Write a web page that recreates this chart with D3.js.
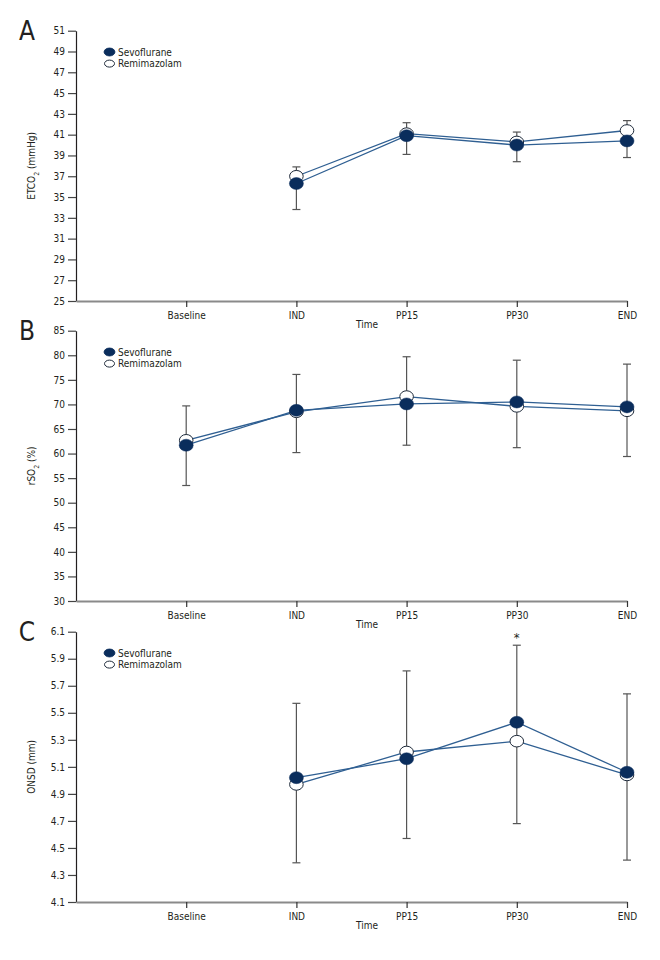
<!DOCTYPE html>
<html>
<head>
<meta charset="utf-8">
<script src="https://cdn.jsdelivr.net/npm/d3@7"></script>
<style>
  html, body { margin: 0; padding: 0; background: #fff; }
  svg { display: block; }
  text { font-family: "Liberation Sans Narrow", "DejaVu Sans Condensed", "Roboto Condensed", sans-serif; fill: #231f20; }
</style>
</head>
<body>
<svg id="chart" width="660" height="960"></svg>
<script>
// ---------- data ----------
const timepoints = ["Baseline", "IND", "PP15", "PP30", "END"];
const seriesNames = ["Sevoflurane", "Remimazolam"];

// Panel A: ETCO2 (mmHg)
const etco2Sevo      = [null, 36.3, 40.9, 40.0, 40.4];
const etco2Remi      = [null, 37.0, 41.1, 40.3, 41.4];
const etco2ErrTop    = [null, 37.9, 42.15, 41.25, 42.35];
const etco2ErrBottom = [null, 33.8, 39.1, 38.4, 38.8];
const etco2Ticks     = [25, 27, 29, 31, 33, 35, 37, 39, 41, 43, 45, 47, 49, 51];
const etco2Sig       = ["", "", "", "", ""];

// Panel B: rSO2 (%)
const rso2Sevo      = [61.7, 68.8, 70.1, 70.5, 69.5];
const rso2Remi      = [62.7, 68.5, 71.6, 69.6, 68.7];
const rso2ErrTop    = [69.7, 76.1, 79.7, 79.0, 78.2];
const rso2ErrBottom = [53.5, 60.2, 61.7, 61.2, 59.4];
const rso2Ticks     = [30, 35, 40, 45, 50, 55, 60, 65, 70, 75, 80, 85];
const rso2Sig       = ["", "", "", "", ""];

// Panel C: ONSD (mm)
const onsdSevo      = [null, 5.02, 5.16, 5.43, 5.06];
const onsdRemi      = [null, 4.97, 5.21, 5.29, 5.04];
const onsdErrTop    = [null, 5.57, 5.81, 6.00, 5.64];
const onsdErrBottom = [null, 4.39, 4.57, 4.68, 4.41];
const onsdTicks     = [4.1, 4.3, 4.5, 4.7, 4.9, 5.1, 5.3, 5.5, 5.7, 5.9, 6.1];
const onsdSig       = ["", "", "", "*", ""];

// ---------- layout / style ----------
const panels = [
  { letter: "A", label: ["ETCO", "2", " (mmHg)"], sevo: etco2Sevo, remi: etco2Remi, top: etco2ErrTop, bottom: etco2ErrBottom, ticks: etco2Ticks, sig: etco2Sig, fmt: d3.format("d"), y0: 30.7 },
  { letter: "B", label: ["rSO", "2", " (%)"], sevo: rso2Sevo, remi: rso2Remi, top: rso2ErrTop, bottom: rso2ErrBottom, ticks: rso2Ticks, sig: rso2Sig, fmt: d3.format("d"), y0: 330.7 },
  { letter: "C", label: ["ONSD (mm)"], sevo: onsdSevo, remi: onsdRemi, top: onsdErrTop, bottom: onsdErrBottom, ticks: onsdTicks, sig: onsdSig, fmt: d3.format(".1f"), y0: 631.7 }
];
const panelH = 270.3;
const xLeft = 76, xRight = 627;
const lineColor = "#2f5f92";
const navy = "#0a2d5c";
const errColor = "#555";
const fs = "10px";

const svg = d3.select("#chart");
const x = d3.scaleLinear().domain([0, timepoints.length]).range([xLeft, xRight]);

panels.forEach(p => {
  const yTop = p.y0, yBot = p.y0 + panelH;
  const y = d3.scaleLinear().domain(d3.extent(p.ticks)).range([yBot, yTop]);
  const g = svg.append("g");

  // Y axis
  const ya = g.append("g").attr("transform", `translate(${xLeft},0)`)
    .call(d3.axisLeft(y).tickValues(p.ticks).tickFormat(p.fmt).tickSize(8).tickSizeOuter(0).tickPadding(3));
  ya.select(".domain").attr("stroke", "#231f20").attr("stroke-width", 1.2);
  ya.selectAll(".tick line").attr("stroke", "#444").attr("stroke-width", 1.2);
  ya.selectAll(".tick text").style("font-size", fs).attr("fill", "#231f20");

  // X axis
  const xa = g.append("g").attr("transform", `translate(0,${yBot})`)
    .call(d3.axisBottom(x).tickValues(d3.range(1, timepoints.length + 1))
      .tickFormat(i => timepoints[i - 1]).tickSize(6).tickSizeOuter(0).tickPadding(5));
  xa.select(".domain").attr("stroke", "#8a8a8a").attr("stroke-width", 2);
  xa.selectAll(".tick line").attr("stroke", "#333").attr("stroke-width", 1.2);
  xa.selectAll(".tick text").style("font-size", fs).attr("fill", "#231f20");

  // Time label
  g.append("text").attr("x", 367).attr("y", yBot + 27).attr("text-anchor", "middle")
    .style("font-size", fs).text("Time");

  // Panel letter
  g.append("text").attr("x", 27).attr("y", yTop + 9).attr("text-anchor", "middle")
    .style("font-size", "26px").text(p.letter);

  // Y label
  const yl = g.append("text")
    .attr("transform", `translate(35,${(yTop + yBot) / 2}) rotate(-90)`)
    .attr("text-anchor", "middle").style("font-size", fs);
  p.label.forEach((s, i) => {
    const t = yl.append("tspan").text(s);
    if (p.label.length === 3 && i === 1) t.attr("baseline-shift", "sub").style("font-size", "7px");
  });

  // Error bars
  const idx = d3.range(timepoints.length).filter(i => p.top[i] != null);
  const eb = g.append("g").attr("stroke", errColor).attr("stroke-width", 1.2);
  idx.forEach(i => {
    const cx = x(i + 1);
    eb.append("line").attr("x1", cx).attr("x2", cx).attr("y1", y(p.top[i])).attr("y2", y(p.bottom[i]));
    eb.append("line").attr("x1", cx - 4).attr("x2", cx + 4).attr("y1", y(p.top[i])).attr("y2", y(p.top[i]));
    eb.append("line").attr("x1", cx - 4).attr("x2", cx + 4).attr("y1", y(p.bottom[i])).attr("y2", y(p.bottom[i]));
  });

  // Significance marks
  idx.forEach(i => {
    if (p.sig[i]) {
      g.append("text").attr("x", x(i + 1)).attr("y", y(p.top[i]) - 3)
        .attr("text-anchor", "middle").style("font-size", "13px").text(p.sig[i]);
    }
  });

  // Lines
  const line = d3.line().defined(d => d.v != null).x(d => x(d.i + 1)).y(d => y(d.v));
  [p.remi, p.sevo].forEach(arr => {
    g.append("path").datum(arr.map((v, i) => ({ v, i })))
      .attr("fill", "none").attr("stroke", lineColor).attr("stroke-width", 1.3)
      .attr("d", line);
  });

  // Markers: open (Remimazolam) then filled (Sevoflurane) on top
  g.append("g").selectAll("ellipse").data(p.remi.map((v, i) => ({ v, i })).filter(d => d.v != null))
    .join("ellipse").attr("cx", d => x(d.i + 1)).attr("cy", d => y(d.v))
    .attr("rx", 6.8).attr("ry", 5.8).attr("fill", "#fff").attr("stroke", "#1e2a3a").attr("stroke-width", 1);
  g.append("g").selectAll("ellipse").data(p.sevo.map((v, i) => ({ v, i })).filter(d => d.v != null))
    .join("ellipse").attr("cx", d => x(d.i + 1)).attr("cy", d => y(d.v))
    .attr("rx", 7).attr("ry", 6).attr("fill", navy).attr("stroke", navy).attr("stroke-width", 0.5);

  // Legend
  const lg = g.append("g").attr("transform", `translate(109.5,${yTop + 21.3})`);
  seriesNames.forEach((name, k) => {
    const row = lg.append("g").attr("transform", `translate(0,${k * 11.6})`);
    row.append("ellipse").attr("rx", k === 0 ? 5.4 : 5).attr("ry", k === 0 ? 3.9 : 3.5)
      .attr("fill", k === 0 ? navy : "#fff").attr("stroke", k === 0 ? navy : "#1e2a3a").attr("stroke-width", 1);
    row.append("text").attr("x", 8.5).attr("y", 3.6).style("font-size", fs).text(name);
  });
});
</script>
</body>
</html>
